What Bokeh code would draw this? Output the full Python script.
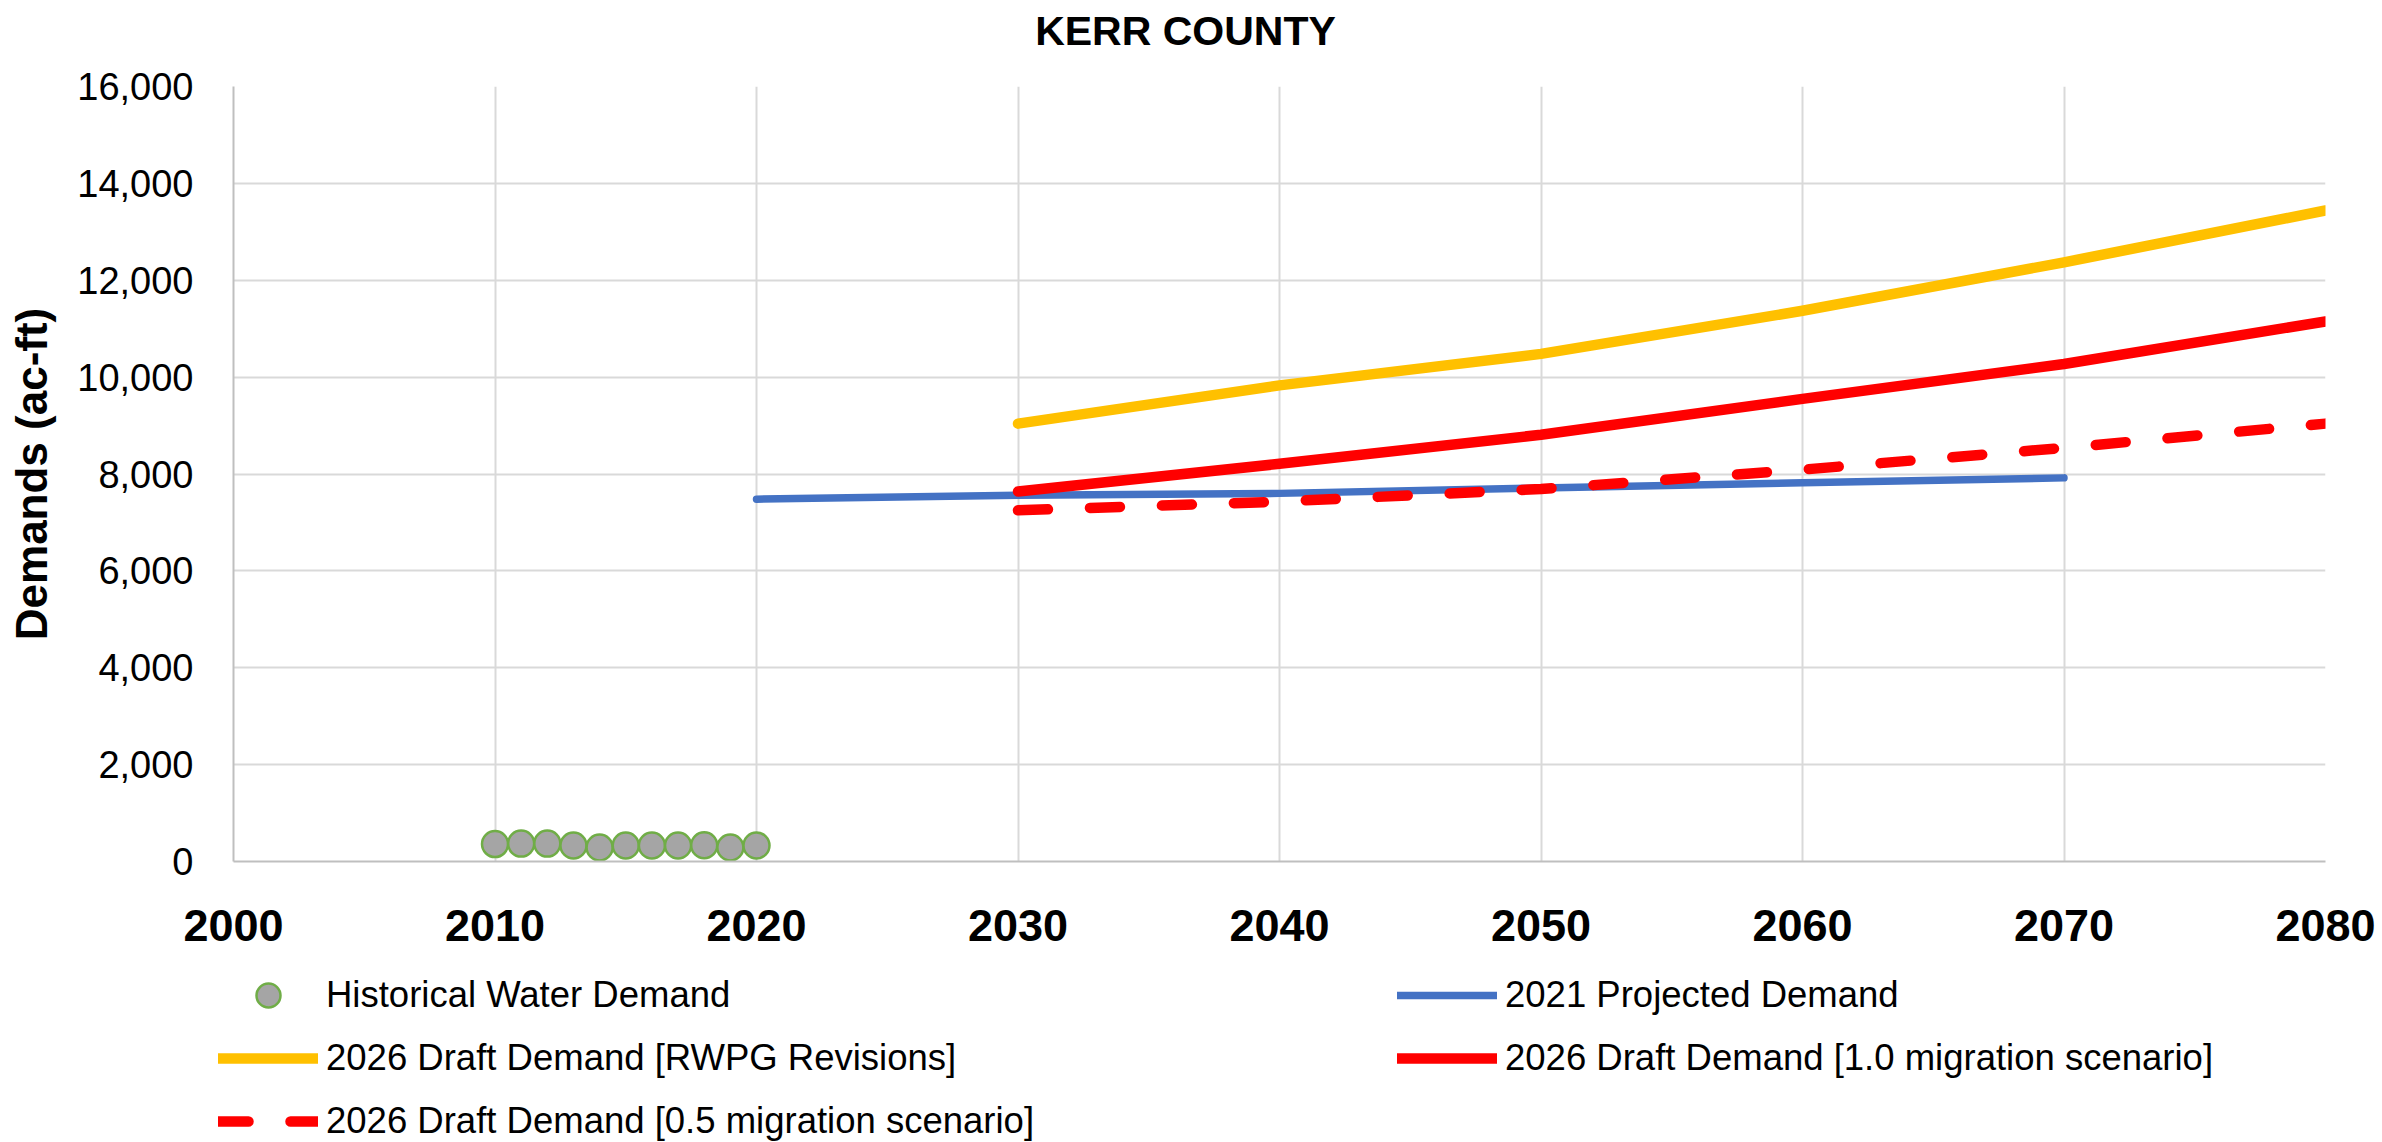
from bokeh.plotting import figure
from bokeh.layouts import column
from bokeh.models import Legend, LegendItem, NumeralTickFormatter, FixedTicker, Range1d, Label
from bokeh.embed import file_html
from bokeh.resources import INLINE

# ---- data ----
hist_years = [2010, 2011, 2012, 2013, 2014, 2015, 2016, 2017, 2018, 2019, 2020]
hist_demand = [360, 370, 370, 330, 290, 330, 330, 330, 335, 290, 330]

proj2021_years = [2020, 2030, 2040, 2050, 2060, 2070]
proj2021 = [7480, 7560, 7600, 7710, 7820, 7920]

draft_years = [2030, 2040, 2050, 2060, 2070, 2080]
draft_rwpg = [9040, 9830, 10480, 11370, 12370, 13440]
draft_mig10 = [7640, 8210, 8810, 9550, 10270, 11150]
draft_mig05 = [7250, 7430, 7690, 8090, 8540, 9040]

x_ticks = [2000, 2010, 2020, 2030, 2040, 2050, 2060, 2070, 2080]
y_ticks = [0, 2000, 4000, 6000, 8000, 10000, 12000, 14000, 16000]

TITLE = "KERR COUNTY"
FONT = "Liberation Sans"
W = 2382
NAN = float("nan")


def strip(height):
    f = figure(width=W, height=height, output_backend="svg", toolbar_location=None,
               x_range=Range1d(0, W), y_range=Range1d(0, height),
               x_axis_type=None, y_axis_type=None,
               min_border=0, min_border_left=0, min_border_right=0,
               min_border_top=0, min_border_bottom=0)
    f.frame_align = False
    f.outline_line_color = None
    f.xgrid.visible = False
    f.ygrid.visible = False
    f.background_fill_color = "white"
    f.border_fill_color = "white"
    return f


# ---- title strip ----
TH = 66
pt = strip(TH)
pt.add_layout(Label(x=1185, y=TH - 30, x_units="screen", y_units="screen", text=TITLE,
                    text_align="center", text_baseline="middle", text_font=FONT,
                    text_font_size="41px", text_font_style="bold", text_color="black"))

# ---- main chart ----
p = figure(width=W, height=894, output_backend="svg", toolbar_location=None,
           x_range=Range1d(2000, 2080), y_range=Range1d(0, 16000),
           min_border_left=233, min_border_right=57, min_border_top=20,
           min_border_bottom=99)
p.frame_align = False
p.outline_line_color = None
p.background_fill_color = "white"
p.border_fill_color = "white"

p.xaxis.ticker = FixedTicker(ticks=x_ticks)
p.yaxis.ticker = FixedTicker(ticks=y_ticks)
p.yaxis.formatter = NumeralTickFormatter(format="0,0")
for ax in (p.xaxis[0], p.yaxis[0]):
    ax.major_tick_out = 0
    ax.major_tick_in = 0
    ax.minor_tick_out = 0
    ax.minor_tick_in = 0
    ax.axis_line_color = "#BFBFBF"
    ax.axis_line_width = 2
    ax.major_label_text_font = FONT
    ax.major_label_text_color = "black"

p.xaxis.major_label_standoff = 48
p.yaxis.major_label_standoff = 40
p.xaxis.major_label_text_font_size = "45px"
p.xaxis.major_label_text_font_style = "bold"
p.yaxis.major_label_text_font_size = "38px"
p.yaxis.axis_label = "Demands (ac-ft)"
p.yaxis.axis_label_text_font = FONT
p.yaxis.axis_label_text_font_size = "44px"
p.yaxis.axis_label_text_font_style = "bold"
p.yaxis.axis_label_text_color = "black"
p.yaxis.axis_label_standoff = 18

p.xgrid.grid_line_color = "#D9D9D9"
p.xgrid.grid_line_width = 2
p.ygrid.grid_line_color = "#D9D9D9"
p.ygrid.grid_line_width = 2

# styles
hist_style = dict(marker="circle", fill_color="#A5A5A5", line_color="#70AD47", line_width=2.5)
blue_style = dict(line_color="#4472C4", line_width=7.5, line_cap="round", line_join="round")
yel_style = dict(line_color="#FFC000", line_width=10.5, line_cap="round", line_join="round")
red_style = dict(line_color="#FF0000", line_width=10.5, line_cap="round", line_join="round")
dash_style = dict(line_color="#FF0000", line_width=10.5, line_cap="round", line_join="round",
                  line_dash="30 42")

# series
p.scatter(hist_years, hist_demand, size=26, **hist_style)
p.line(proj2021_years, proj2021, **blue_style)
p.line(draft_years, draft_rwpg, **yel_style)
p.line(draft_years, draft_mig10, **red_style)
p.line(draft_years, draft_mig05, **dash_style)

# ---- legend strip ----
LH = 182
pl = strip(LH)

# legend-key renderers (no visible data)
lr_hist = pl.scatter([NAN], [NAN], size=26, **hist_style)
lr_blue = pl.line([NAN], [NAN], **blue_style)
lr_yel = pl.line([NAN], [NAN], **yel_style)
lr_red = pl.line([NAN], [NAN], **red_style)
lr_dash = pl.line([NAN], [NAN], **dash_style)

ITEM_H = 60
GAP = 3
TOP = 5  # distance from top of legend strip to top of first item

common = dict(orientation="vertical", glyph_width=100, glyph_height=ITEM_H,
              label_height=ITEM_H, spacing=GAP, label_standoff=8, padding=0, margin=0,
              border_line_alpha=0, background_fill_alpha=0,
              label_text_font=FONT, label_text_font_size="36.5px",
              label_text_color="black")

h1 = 3 * ITEM_H + 2 * GAP
h2 = 2 * ITEM_H + 1 * GAP
leg1 = Legend(items=[
    LegendItem(label="Historical Water Demand", renderers=[lr_hist]),
    LegendItem(label="2026 Draft Demand [RWPG Revisions]", renderers=[lr_yel]),
    LegendItem(label="2026 Draft Demand [0.5 migration scenario]", renderers=[lr_dash]),
], location=(218, LH - TOP - h1), **common)
leg2 = Legend(items=[
    LegendItem(label="2021 Projected Demand", renderers=[lr_blue]),
    LegendItem(label="2026 Draft Demand [1.0 migration scenario]", renderers=[lr_red]),
], location=(1397, LH - TOP - h2), **common)
pl.add_layout(leg1)
pl.add_layout(leg2)

layout = column(pt, p, pl, spacing=0)
open("out.html", "w").write(file_html(layout, INLINE))
